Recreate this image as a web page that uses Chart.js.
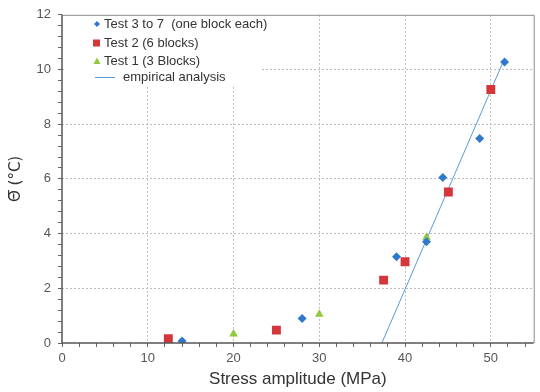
<!DOCTYPE html>
<html>
<head>
<meta charset="utf-8">
<script src="https://cdn.jsdelivr.net/npm/chart.js@4/dist/chart.umd.min.js"></script>
<style>
html,body{margin:0;padding:0;background:#fff;}
#c{display:block;}
</style>
</head>
<body>
<canvas id="c" width="540" height="392"></canvas>
<script>
// ---- data ----
const test37X = [14, 28, 39, 42.5, 44.4, 48.7, 51.6];
const test37Y = [0.07, 0.9, 3.15, 3.7, 6.05, 7.48, 10.27];
const test2X = [12.4, 25, 37.5, 40, 45.05, 50];
const test2Y = [0.16, 0.47, 2.3, 2.97, 5.52, 9.27];
const test1X = [20, 30, 42.5];
const test1Y = [0.33, 1.05, 3.87];
const empiricalX = [37.3, 51.6];
const empiricalY = [0, 10.4];
const seriesNames = ["Test 3 to 7  (one block each)", "Test 2 (6 blocks)", "Test 1 (3 Blocks)", "empirical analysis"];
const xTitle = "Stress amplitude (MPa)";
const yTitle = "\u0398\u0305 (\u00B0C)";
const xMin = 0, xMax = 55, xMinorStep = 2, xMajorStep = 10;
const yMin = 0, yMax = 12, yMinorStep = 0.4, yMajorStep = 2;

const BLUE = '#2f79cc', RED = '#d4373b', GREEN = '#93c83e', LINE = '#5b9bd8';
const FONT = '"Liberation Sans", Arial, sans-serif';
const pts = (xs, ys) => xs.map((x, i) => ({x, y: ys[i]}));

function buildTicks(min, max, step) {
  const out = [];
  const n = Math.floor((max - min) / step + 1e-9);
  for (let i = 0; i <= n; i++) out.push({value: Math.round((min + i * step) * 1000) / 1000});
  return out;
}
const isMajor = (v, step) => Math.abs(v / step - Math.round(v / step)) < 1e-6;

const legendPlugin = {
  id: 'customLegend',
  beforeDatasetsDraw(chart) {
    const ctx = chart.ctx;
    ctx.save();
    ctx.fillStyle = '#fff';
    ctx.fillRect(64, 14, 198, 72);
    ctx.font = '13px ' + FONT;
    ctx.textBaseline = 'middle';
    const rows = [24, 43, 61, 77];
    ctx.fillStyle = BLUE;
    ctx.beginPath(); ctx.moveTo(97, rows[0] - 3); ctx.lineTo(100, rows[0]); ctx.lineTo(97, rows[0] + 3); ctx.lineTo(94, rows[0]); ctx.closePath(); ctx.fill();
    ctx.fillStyle = RED; ctx.fillRect(93, rows[1] - 3.5, 7, 7);
    ctx.fillStyle = GREEN;
    ctx.beginPath(); ctx.moveTo(97, rows[2] - 3.5); ctx.lineTo(100.5, rows[2] + 3); ctx.lineTo(93.5, rows[2] + 3); ctx.closePath(); ctx.fill();
    ctx.strokeStyle = LINE; ctx.lineWidth = 1;
    ctx.beginPath(); ctx.moveTo(95, rows[3] + 0.5); ctx.lineTo(115, rows[3] + 0.5); ctx.stroke();
    ctx.fillStyle = '#333';
    ctx.fillText(seriesNames[0], 104, rows[0]);
    ctx.fillText(seriesNames[1], 104, rows[1]);
    ctx.fillText(seriesNames[2], 104, rows[2]);
    ctx.fillText(seriesNames[3], 123, rows[3]);
    ctx.restore();
  }
};

const framePlugin = {
  id: 'frame',
  afterDraw(chart) {
    const {ctx, chartArea: a} = chart;
    ctx.save();
    ctx.strokeStyle = '#8a8a8a';
    ctx.lineWidth = 1;
    ctx.beginPath();
    ctx.moveTo(a.left, a.top + 0.5); ctx.lineTo(a.right + 0.5, a.top + 0.5); ctx.lineTo(a.right + 0.5, a.bottom);
    ctx.stroke();
    ctx.strokeStyle = '#555';
    ctx.lineWidth = 1.5;
    ctx.beginPath();
    ctx.moveTo(a.left, a.top); ctx.lineTo(a.left, a.bottom); ctx.lineTo(a.right, a.bottom);
    ctx.stroke();
    ctx.restore();
  }
};

const tickFont = {family: FONT, size: 13};

new Chart(document.getElementById('c'), {
  type: 'scatter',
  data: {
    datasets: [
      {label: seriesNames[3], data: pts(empiricalX, empiricalY), showLine: true, borderColor: LINE, borderWidth: 1, pointRadius: 0, order: 4},
      {label: seriesNames[2], data: pts(test1X, test1Y), pointStyle: 'triangle', pointRadius: 5, backgroundColor: GREEN, borderColor: GREEN, borderWidth: 0, order: 3},
      {label: seriesNames[1], data: pts(test2X, test2Y), pointStyle: 'rect', pointRadius: 6.3, backgroundColor: RED, borderColor: RED, borderWidth: 0, order: 2},
      {label: seriesNames[0], data: pts(test37X, test37Y), pointStyle: 'rectRot', pointRadius: 4.5, backgroundColor: BLUE, borderColor: BLUE, borderWidth: 0, order: 1}
    ]
  },
  options: {
    responsive: false,
    animation: false,
    layout: {padding: {left: 0, top: 13, right: 5, bottom: 0}},
    plugins: {legend: {display: false}, tooltip: {enabled: false}},
    scales: {
      x: {
        type: 'linear', min: xMin, max: xMax,
        afterBuildTicks: s => { s.ticks = buildTicks(xMin, 54, xMinorStep); },
        afterFit: s => { s.height = 49; },
        border: {display: false, dash: [2, 2]},
        grid: {
          color: c => (c.tick && isMajor(c.tick.value, xMajorStep) && c.tick.value > 0) ? '#bdbdbd' : 'rgba(0,0,0,0)',
          lineWidth: 1,
          tickColor: '#666', tickLength: 4, tickBorderDash: [], tickWidth: 1
        },
        ticks: {
          autoSkip: false, maxRotation: 0, color: '#555', font: tickFont, padding: 4,
          callback: v => isMajor(v, xMajorStep) ? String(Math.round(v)) : ''
        },
        title: {display: true, text: xTitle, color: '#333', font: {family: FONT, size: 17}, padding: {top: 0, bottom: 2}}
      },
      y: {
        type: 'linear', min: yMin, max: yMax,
        afterBuildTicks: s => { s.ticks = buildTicks(yMin, yMax, yMinorStep); },
        afterFit: s => { s.width = 62; },
        border: {display: false, dash: [2, 2]},
        grid: {
          color: c => (c.tick && isMajor(c.tick.value, yMajorStep) && c.tick.value > 0 && c.tick.value < yMax) ? '#bdbdbd' : 'rgba(0,0,0,0)',
          lineWidth: 1,
          tickColor: '#666', tickLength: 4, tickBorderDash: [], tickWidth: 1
        },
        ticks: {
          autoSkip: false, color: '#555', font: tickFont, padding: 7,
          callback: v => isMajor(v, yMajorStep) ? String(Math.round(v)) : ''
        },
        title: {display: true, text: yTitle, color: '#333', font: {family: '"DejaVu Sans", sans-serif', size: 15}, padding: {top: 7, bottom: 0}}
      }
    }
  },
  plugins: [legendPlugin, framePlugin]
});
</script>
</body>
</html>
